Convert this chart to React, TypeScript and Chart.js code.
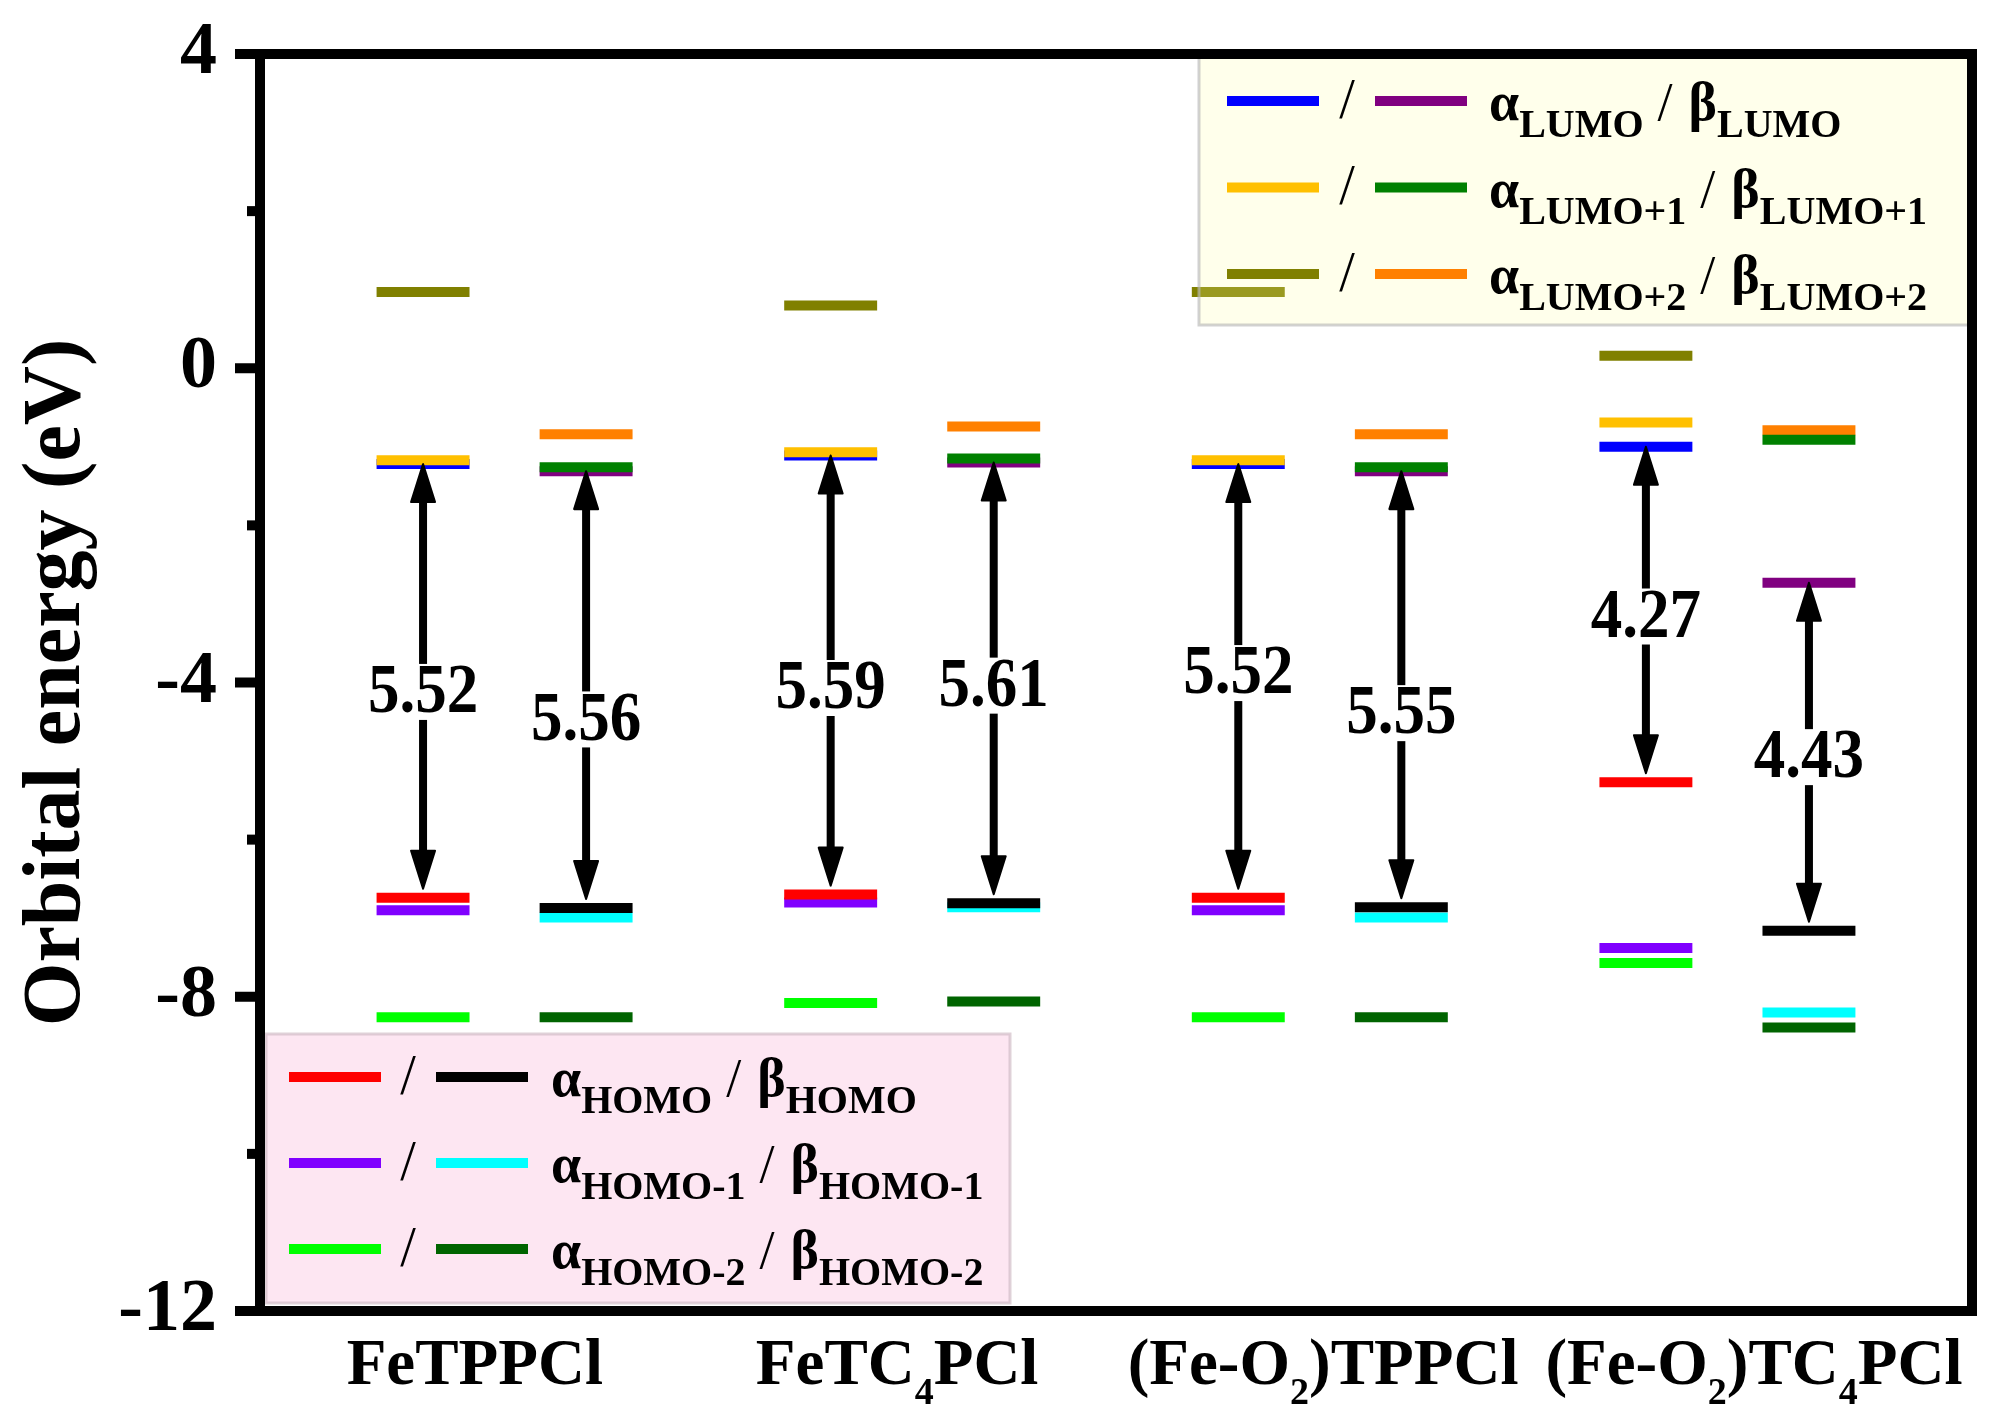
import React, { useEffect, useRef } from 'react';
import { Chart, registerables } from 'chart.js';

Chart.register(...registerables);

// ---------------- DATA ----------------
const compounds = ['FeTPPCl', 'FeTC4PCl', '(Fe-O2)TPPCl', '(Fe-O2)TC4PCl'];
// rich-text version of the compound names (subscripts)
const compoundLabelParts = [
  [{ t: 'FeTPPCl' }],
  [{ t: 'FeTC' }, { t: '4', sub: true }, { t: 'PCl' }],
  [{ t: '(Fe-O' }, { t: '2', sub: true }, { t: ')TPPCl' }],
  [{ t: '(Fe-O' }, { t: '2', sub: true }, { t: ')TC' }, { t: '4', sub: true }, { t: 'PCl' }],
];

// alpha-spin orbital energies (eV)
const alphaLUMO2 = [0.97, 0.8, 0.97, 0.16];
const alphaLUMO1 = [-1.17, -1.07, -1.17, -0.69];
const alphaLUMO = [-1.22, -1.11, -1.22, -1.0];
const alphaHOMO = [-6.74, -6.7, -6.74, -5.27];
const alphaHOMO1 = [-6.9, -6.8, -6.9, -7.38];
const alphaHOMO2 = [-8.26, -8.08, -8.26, -7.57];

// beta-spin orbital energies (eV)
const betaLUMO2 = [-0.84, -0.74, -0.84, -0.79];
const betaLUMO1 = [-1.26, -1.15, -1.26, -0.91];
const betaLUMO = [-1.31, -1.2, -1.31, -2.73];
const betaHOMO = [-6.87, -6.81, -6.86, -7.16];
const betaHOMO1 = [-6.99, -6.86, -6.99, -8.2];
const betaHOMO2 = [-8.26, -8.06, -8.26, -8.39];

// HOMO-LUMO gaps (eV) and where their labels sit (eV)
const alphaGap = [5.52, 5.59, 5.52, 4.27];
const betaGap = [5.56, 5.61, 5.55, 4.43];
const alphaGapLabelY = [-4.12, -4.07, -3.88, -3.16];
const betaGapLabelY = [-4.47, -4.04, -4.39, -4.95];

// y axis
const yMin = -12;
const yMax = 4;
const yStep = 2;
const yLabelStep = 4;

// ---------------- LAYOUT / STYLE ----------------
const W = 2007;
const H = 1425;
const SERIF = "'Liberation Serif', 'Times New Roman', serif";
const SPIN_OFFSET = { alpha: -0.2, beta: 0.2 };
const HALF = 0.114;
const LEVEL_W = 10;
const labelShift = [-0.073, -0.037, 0.008, 0.065];
const GAP_FONT = 70;
const GAP_XSCALE = 0.9;

type Series = { name: string; spin: 'alpha' | 'beta'; values: number[]; color: string; order: number };

const series: Series[] = [
  { name: 'αHOMO', spin: 'alpha', values: alphaHOMO, color: '#FF0000', order: 0 },
  { name: 'βHOMO', spin: 'beta', values: betaHOMO, color: '#000000', order: 0 },
  { name: 'αLUMO+1', spin: 'alpha', values: alphaLUMO1, color: '#FFC000', order: 0 },
  { name: 'βLUMO+1', spin: 'beta', values: betaLUMO1, color: '#008000', order: 0 },
  { name: 'αLUMO+2', spin: 'alpha', values: alphaLUMO2, color: '#808000', order: 1 },
  { name: 'βLUMO+2', spin: 'beta', values: betaLUMO2, color: '#FF8000', order: 1 },
  { name: 'αLUMO', spin: 'alpha', values: alphaLUMO, color: '#0000FF', order: 1 },
  { name: 'βLUMO', spin: 'beta', values: betaLUMO, color: '#800080', order: 1 },
  { name: 'αHOMO-1', spin: 'alpha', values: alphaHOMO1, color: '#8000FF', order: 1 },
  { name: 'βHOMO-1', spin: 'beta', values: betaHOMO1, color: '#00FFFF', order: 1 },
  { name: 'αHOMO-2', spin: 'alpha', values: alphaHOMO2, color: '#00FF00', order: 1 },
  { name: 'βHOMO-2', spin: 'beta', values: betaHOMO2, color: '#006400', order: 1 },
];

const colorOf = (n: string) => series.find((s) => s.name === n)!.color;

function segments(values: number[], off: number) {
  const pts: { x: number; y: number | null }[] = [];
  values.forEach((v, i) => {
    pts.push({ x: i + off - HALF, y: v });
    pts.push({ x: i + off + HALF, y: v });
    pts.push({ x: i + off + HALF, y: null });
  });
  return pts;
}

type Part = { t?: string; sub?: boolean; slash?: boolean; gap?: number };

function drawRich(ctx: CanvasRenderingContext2D, x: number, baseline: number, parts: Part[], mainSize: number, subSize: number, subDy: number) {
  let cx = x;
  ctx.textAlign = 'left';
  ctx.textBaseline = 'alphabetic';
  ctx.fillStyle = '#000';
  for (const p of parts) {
    if (p.gap) {
      cx += p.gap;
      continue;
    }
    if (!p.t) continue;
    if (p.slash) ctx.font = `normal ${mainSize}px ${SERIF}`;
    else if (p.sub) ctx.font = `bold ${subSize}px ${SERIF}`;
    else ctx.font = `bold ${mainSize}px ${SERIF}`;
    ctx.fillText(p.t, cx, baseline + (p.sub ? subDy : 0));
    cx += ctx.measureText(p.t).width;
  }
}

function richWidth(ctx: CanvasRenderingContext2D, parts: Part[], mainSize: number, subSize: number) {
  let w = 0;
  for (const p of parts) {
    if (p.gap) { w += p.gap; continue; }
    if (!p.t) continue;
    ctx.font = p.sub ? `bold ${subSize}px ${SERIF}` : `bold ${mainSize}px ${SERIF}`;
    w += ctx.measureText(p.t).width;
  }
  return w;
}

function drawArrow(ctx: CanvasRenderingContext2D, x: number, yTop: number, yBot: number) {
  const headLen = 38;
  const headW = 24;
  ctx.save();
  ctx.strokeStyle = '#000';
  ctx.fillStyle = '#000';
  ctx.lineWidth = 8;
  ctx.lineCap = 'butt';
  ctx.beginPath();
  ctx.moveTo(x, yTop + headLen - 4);
  ctx.lineTo(x, yBot - headLen + 4);
  ctx.stroke();
  ctx.lineWidth = 2;
  ctx.lineJoin = 'round';
  ctx.beginPath();
  ctx.moveTo(x, yTop);
  ctx.lineTo(x - headW / 2, yTop + headLen);
  ctx.lineTo(x + headW / 2, yTop + headLen);
  ctx.closePath();
  ctx.fill();
  ctx.stroke();
  ctx.beginPath();
  ctx.moveTo(x, yBot);
  ctx.lineTo(x - headW / 2, yBot - headLen);
  ctx.lineTo(x + headW / 2, yBot - headLen);
  ctx.closePath();
  ctx.fill();
  ctx.stroke();
  ctx.restore();
}

const legendTopRows = [
  { a: 'αLUMO', b: 'βLUMO', sub: 'LUMO' },
  { a: 'αLUMO+1', b: 'βLUMO+1', sub: 'LUMO+1' },
  { a: 'αLUMO+2', b: 'βLUMO+2', sub: 'LUMO+2' },
];
const legendBottomRows = [
  { a: 'αHOMO', b: 'βHOMO', sub: 'HOMO' },
  { a: 'αHOMO-1', b: 'βHOMO-1', sub: 'HOMO-1' },
  { a: 'αHOMO-2', b: 'βHOMO-2', sub: 'HOMO-2' },
];

function drawLegend(
  ctx: CanvasRenderingContext2D,
  box: { x1: number; y1: number; x2: number; y2: number; fill: string; stroke: string },
  rows: { a: string; b: string; sub: string }[],
  rowY0: number,
  rowDy: number,
  s1: number,
  slashX: number,
  s2: number,
  textX: number
) {
  ctx.save();
  ctx.fillStyle = box.fill;
  ctx.fillRect(box.x1, box.y1, box.x2 - box.x1, box.y2 - box.y1);
  ctx.strokeStyle = box.stroke;
  ctx.lineWidth = 3;
  ctx.strokeRect(box.x1, box.y1, box.x2 - box.x1, box.y2 - box.y1);
  rows.forEach((r, i) => {
    const cy = rowY0 + rowDy * i;
    ctx.fillStyle = colorOf(r.a);
    ctx.fillRect(s1, cy - LEVEL_W / 2, 92, LEVEL_W);
    ctx.fillStyle = colorOf(r.b);
    ctx.fillRect(s2, cy - LEVEL_W / 2, 92, LEVEL_W);
    ctx.fillStyle = '#000';
    ctx.font = `normal 56px ${SERIF}`;
    ctx.textAlign = 'center';
    ctx.textBaseline = 'middle';
    ctx.fillText('/', slashX, cy + 2);
    drawRich(
      ctx,
      textX,
      cy + 19,
      [
        { t: 'α' },
        { t: r.sub, sub: true },
        { gap: 14 },
        { t: '/', slash: true },
        { gap: 16 },
        { t: 'β' },
        { t: r.sub, sub: true },
      ],
      54,
      40,
      17
    );
  });
  ctx.restore();
}

const decorPlugin = {
  id: 'energyDecor',
  afterDatasetsDraw(chart: any) {
    const { ctx, scales } = chart;
    const x = scales.x;
    const y = scales.y;
    const spins: { off: number; lumo: number[]; homo: number[]; gap: number[]; ly: number[] }[] = [
      { off: SPIN_OFFSET.alpha, lumo: alphaLUMO, homo: alphaHOMO, gap: alphaGap, ly: alphaGapLabelY },
      { off: SPIN_OFFSET.beta, lumo: betaLUMO, homo: betaHOMO, gap: betaGap, ly: betaGapLabelY },
    ];
    ctx.save();
    for (const s of spins) {
      compounds.forEach((_, i) => {
        const px = x.getPixelForValue(i + s.off);
        const yTop = y.getPixelForValue(s.lumo[i]);
        const yBot = y.getPixelForValue(s.homo[i]) - 9;
        drawArrow(ctx, px, yTop, yBot);
        const txt = s.gap[i].toFixed(2);
        ctx.font = `bold ${GAP_FONT}px ${SERIF}`;
        const w = ctx.measureText(txt).width * GAP_XSCALE;
        const ly = y.getPixelForValue(s.ly[i]);
        ctx.fillStyle = '#fff';
        ctx.fillRect(px - w / 2 - 2, ly - 28, w + 4, 56);
        ctx.save();
        ctx.translate(px, ly + 2);
        ctx.scale(GAP_XSCALE, 1);
        ctx.fillStyle = '#000';
        ctx.textAlign = 'center';
        ctx.textBaseline = 'middle';
        ctx.fillText(txt, 0, 0);
        ctx.restore();
      });
    }
    ctx.restore();
  },
  afterDraw(chart: any) {
    const { ctx, chartArea, scales } = chart;
    const x = scales.x;
    const y = scales.y;
    const { left, right, top, bottom } = chartArea;
    ctx.save();

    // legends (semi-transparent so that levels beneath show through)
    drawLegend(
      ctx,
      { x1: 1199, y1: top + 3, x2: right - 3, y2: 325, fill: 'rgba(255,255,157,0.205)', stroke: 'rgba(185,185,185,0.65)' },
      legendTopRows,
      101,
      86.5,
      1227,
      1347,
      1375,
      1489
    );
    drawLegend(
      ctx,
      { x1: left + 6, y1: 1034, x2: 1010, y2: bottom - 8, fill: 'rgba(245,130,190,0.2)', stroke: 'rgba(210,190,200,0.7)' },
      legendBottomRows,
      1077,
      86,
      289,
      408,
      436,
      551
    );

    // frame
    ctx.strokeStyle = '#000';
    ctx.lineWidth = 10;
    ctx.lineJoin = 'miter';
    ctx.strokeRect(left, top, right - left, bottom - top);

    // y ticks (outward), major with labels, minor in between
    ctx.fillStyle = '#000';
    for (let v = yMin; v <= yMax; v += yStep) {
      const py = y.getPixelForValue(v);
      const major = v % yLabelStep === 0;
      const len = major ? 20 : 8;
      ctx.fillRect(left - 5 - len, py - 5, len, 10);
    }

    // x category labels with subscripts
    compounds.forEach((_, i) => {
      const parts = compoundLabelParts[i];
      const cx = x.getPixelForValue(i + labelShift[i]);
      const w = richWidth(ctx, parts, 65, 38);
      drawRich(ctx, cx - w / 2, bottom + 73, parts, 65, 38, 20);
    });
    ctx.restore();
  },
};

export default function App() {
  const ref = useRef<HTMLCanvasElement>(null);
  useEffect(() => {
    const canvas = ref.current!;
    const chart = new Chart(canvas, {
      type: 'line',
      data: {
        datasets: series.map((s) => ({
          label: s.name,
          data: segments(s.values, SPIN_OFFSET[s.spin]),
          borderColor: s.color,
          backgroundColor: s.color,
          borderWidth: LEVEL_W,
          borderCapStyle: 'butt',
          pointRadius: 0,
          pointHoverRadius: 0,
          fill: false,
          tension: 0,
          spanGaps: false,
          order: s.order,
        })),
      },
      options: {
        animation: false,
        responsive: false,
        devicePixelRatio: 1,
        events: [],
        layout: { padding: { left: 0, top: 54, right: 35, bottom: 114 } },
        plugins: { legend: { display: false }, tooltip: { enabled: false } },
        scales: {
          x: { type: 'linear', min: -0.6, max: 3.6, display: false },
          y: {
            type: 'linear',
            min: yMin,
            max: yMax,
            afterFit: (s: any) => {
              s.width = 260;
              s.paddingTop = 0;
              s.paddingBottom = 0;
            },
            ticks: {
              stepSize: yStep,
              autoSkip: false,
              padding: 43,
              color: '#000',
              font: { family: SERIF, size: 74, weight: 'bold' },
              callback: (v: any) => (Number(v) % yLabelStep === 0 ? String(v) : ''),
            },
            grid: { display: false, drawTicks: false },
            border: { display: false },
            title: {
              display: true,
              text: 'Orbital energy (eV)',
              color: '#000',
              font: { family: SERIF, size: 82, weight: 'bold' },
              padding: { top: 9, bottom: 0 },
            },
          },
        },
      },
      plugins: [decorPlugin],
    } as any);
    return () => chart.destroy();
  }, []);
  return (
    <div style={{ position: 'absolute', left: 0, top: 0, width: W, height: H, background: '#fff' }}>
      <canvas ref={ref} width={W} height={H} style={{ display: 'block' }} />
    </div>
  );
}
